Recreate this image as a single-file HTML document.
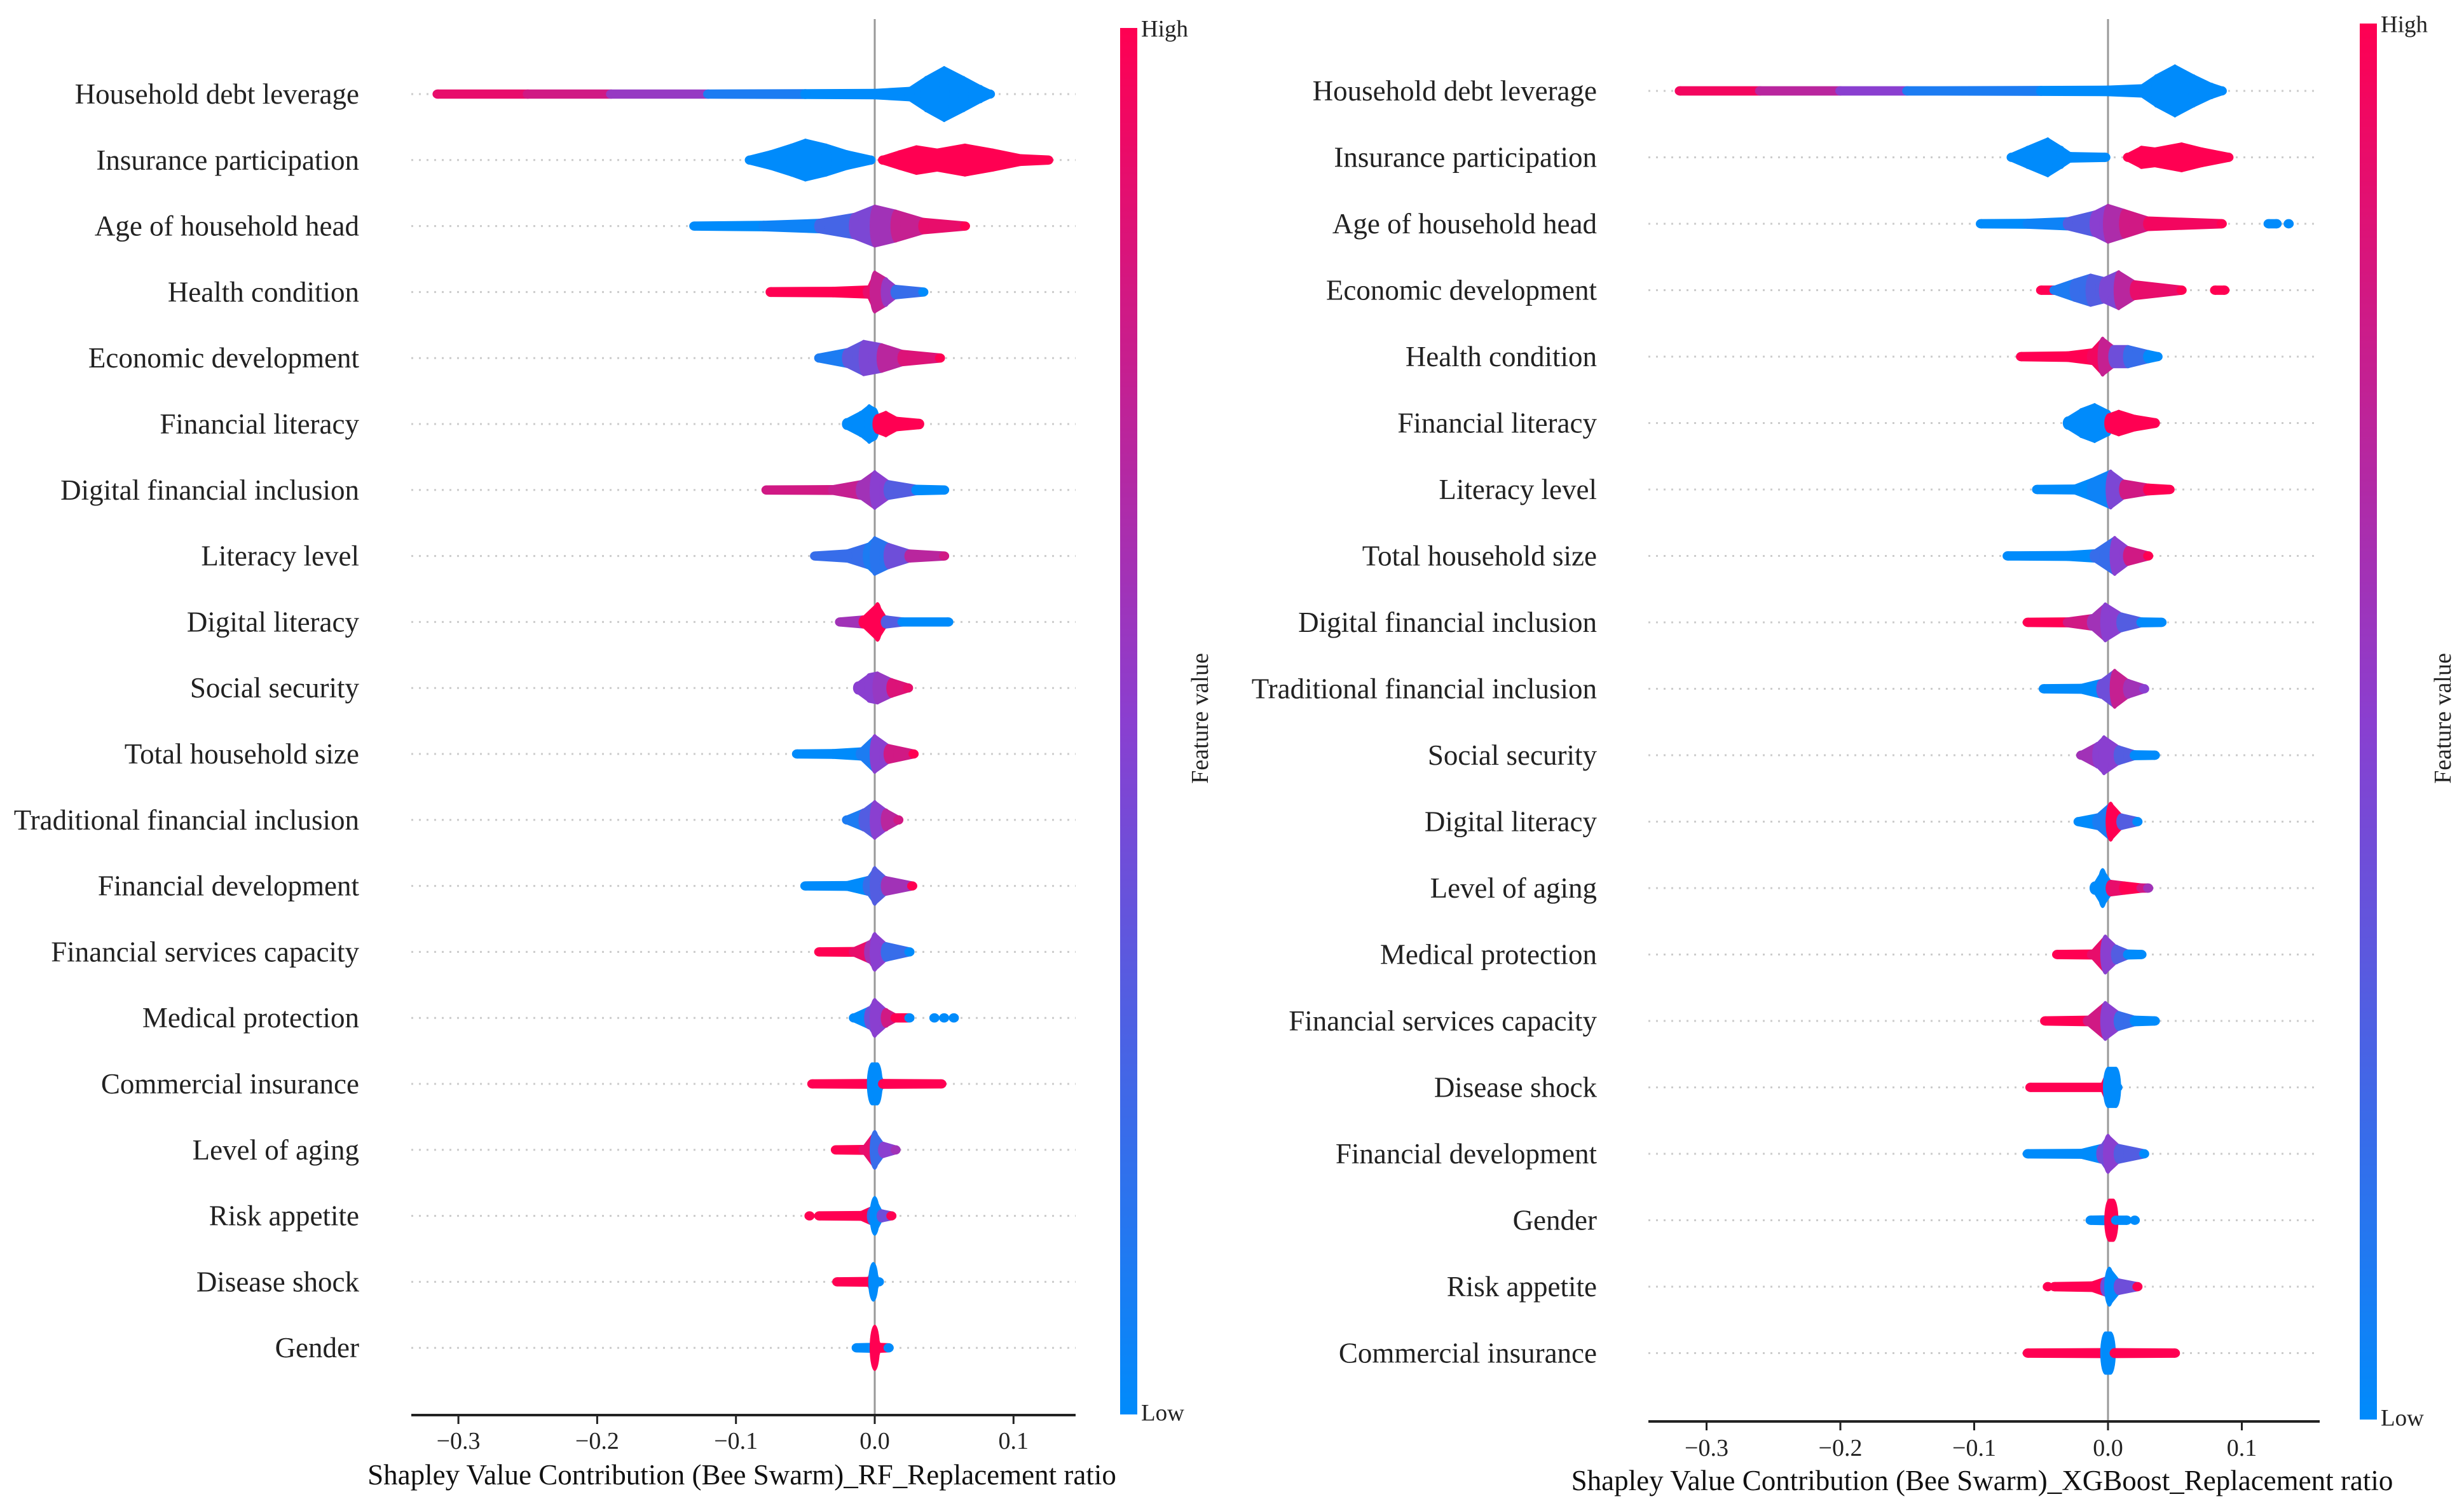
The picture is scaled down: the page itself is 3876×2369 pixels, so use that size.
<!DOCTYPE html>
<html><head><meta charset="utf-8">
<style>
html,body{margin:0;padding:0;background:#fff;}
svg{display:block;font-family:"Liberation Serif","Times New Roman",serif;}
</style></head>
<body>
<svg id="chart" width="3876" height="2369" viewBox="0 0 3876 2369" xmlns="http://www.w3.org/2000/svg">
<defs>
<linearGradient id="cbar" x1="0" y1="1" x2="0" y2="0">
<stop offset="0" stop-color="#008bfb"/><stop offset="0.5" stop-color="#8a3fd0"/><stop offset="1" stop-color="#ff0052"/>
</linearGradient>
</defs>
</svg>
<script>
// ---- data: knots [shapValue, relativeDensity, featureValue(0=low,1=high)] ----
const tickValues = [-0.3, -0.2, -0.1, 0.0, 0.1];
const tickLabels = ["\u22120.3", "\u22120.2", "\u22120.1", "0.0", "0.1"];

const rfFeatures = ["Household debt leverage","Insurance participation","Age of household head","Health condition","Economic development","Financial literacy ","Digital financial inclusion","Literacy level","Digital literacy","Social security","Total household size","Traditional financial inclusion","Financial development","Financial services capacity","Medical protection","Commercial insurance","Level of aging","Risk appetite","Disease shock","Gender"];
const rfSwarms = [
 [[[-0.315,0.14,0.9],[-0.25,0.14,0.8],[-0.19,0.14,0.55],[-0.12,0.14,0.1],[-0.05,0.15,0],[0.0,0.16,0],[0.025,0.22,0],[0.037,0.55,0],[0.05,0.85,0],[0.064,0.55,0],[0.076,0.28,0],[0.083,0.14,0]]],
 [[[-0.09,0.14,0],[-0.075,0.3,0],[-0.06,0.5,0],[-0.05,0.65,0],[-0.035,0.5,0],[-0.02,0.3,0],[-0.003,0.14,0]],
  [[0.006,0.14,1],[0.018,0.3,1],[0.03,0.45,1],[0.045,0.35,1],[0.065,0.5,1],[0.085,0.35,1],[0.105,0.18,1],[0.125,0.14,1]]],
 [[[-0.13,0.14,0],[-0.08,0.16,0.05],[-0.04,0.22,0.25],[-0.015,0.4,0.45],[0.0,0.65,0.6],[0.015,0.5,0.75],[0.035,0.25,0.9],[0.065,0.14,1]]],
 [[[-0.075,0.15,1],[-0.03,0.16,1],[-0.005,0.2,0.9],[0.0,0.65,0.75],[0.008,0.45,0.55],[0.015,0.22,0.2],[0.035,0.14,0]]],
 [[[-0.04,0.14,0.1],[-0.02,0.3,0.35],[-0.008,0.55,0.45],[0.005,0.45,0.7],[0.02,0.25,0.85],[0.047,0.14,1]]],
 [[[-0.02,0.18,0],[-0.01,0.4,0],[-0.004,0.6,0],[0.0,0.5,0]],
  [[0.002,0.3,1],[0.008,0.4,1],[0.016,0.22,1],[0.032,0.16,1]]],
 [[[-0.078,0.14,0.8],[-0.03,0.15,0.75],[-0.01,0.3,0.6],[0.0,0.6,0.5],[0.01,0.3,0.3],[0.03,0.16,0],[0.05,0.14,0]]],
 [[[-0.043,0.14,0.2],[-0.02,0.2,0.2],[-0.005,0.4,0.1],[0.0,0.6,0.15],[0.01,0.4,0.4],[0.025,0.2,0.7],[0.05,0.14,0.8]]],
 [[[-0.025,0.14,0.6],[-0.008,0.2,1],[0.002,0.6,1],[0.008,0.2,0.3],[0.02,0.14,0],[0.053,0.14,0]]],
 [[[-0.012,0.2,0.5],[-0.004,0.45,0.5],[0.002,0.5,0.55],[0.012,0.3,0.85],[0.024,0.14,0.9]]],
 [[[-0.056,0.14,0],[-0.03,0.15,0],[-0.01,0.2,0.1],[0.0,0.6,0.5],[0.01,0.3,0.8],[0.028,0.14,1]]],
 [[[-0.02,0.14,0.1],[-0.008,0.35,0.3],[0.0,0.6,0.5],[0.008,0.35,0.7],[0.017,0.14,0.8]]],
 [[[-0.05,0.14,0],[-0.02,0.15,0],[-0.005,0.3,0.2],[0.0,0.6,0.3],[0.008,0.3,0.6],[0.027,0.14,1]]],
 [[[-0.04,0.14,1],[-0.015,0.15,0.9],[-0.004,0.35,0.6],[0.0,0.6,0.5],[0.008,0.3,0.2],[0.025,0.14,0]]],
 [[[-0.015,0.14,0],[-0.004,0.35,0.4],[0.0,0.6,0.5],[0.008,0.3,0.8],[0.015,0.14,1],[0.025,0.14,0]],
  [[0.043,0.14,0]],[[0.05,0.14,0]],[[0.057,0.14,0]]],
 [[[-0.045,0.14,1],[-0.005,0.15,1],[-0.002,0.65,0],[0.002,0.65,0],[0.006,0.15,1],[0.048,0.14,1]]],
 [[[-0.028,0.14,1],[-0.008,0.15,0.9],[0.0,0.6,0.2],[0.006,0.25,0.5],[0.015,0.14,0.6]]],
 [[[-0.047,0.14,1]],[[-0.04,0.14,1],[-0.01,0.15,1],[-0.002,0.3,0.2],[0.0,0.6,0],[0.005,0.2,0.4],[0.012,0.14,1]]],
 [[[-0.027,0.14,1],[-0.005,0.15,1],[-0.001,0.6,0],[0.003,0.14,0]]],
 [[[-0.013,0.14,0],[-0.003,0.15,0],[0.0,0.7,1],[0.004,0.15,1],[0.01,0.14,0]]]
];

const xgbFeatures = ["Household debt leverage","Insurance participation","Age of household head","Economic development","Health condition","Financial literacy","Literacy level","Total household size","Digital financial inclusion","Traditional financial inclusion","Social security","Digital literacy","Level of aging","Medical protection","Financial services capacity","Disease shock","Financial development","Gender","Risk appetite","Commercial insurance"];
const xgbSwarms = [
 [[[-0.32,0.14,0.95],[-0.26,0.14,0.7],[-0.2,0.14,0.5],[-0.15,0.14,0.1],[-0.05,0.15,0],[0.0,0.16,0],[0.025,0.2,0],[0.036,0.5,0],[0.05,0.8,0],[0.064,0.5,0],[0.077,0.25,0],[0.085,0.14,0]]],
 [[[-0.072,0.14,0],[-0.06,0.35,0],[-0.045,0.6,0],[-0.035,0.35,0],[-0.028,0.16,0],[-0.002,0.14,0]],
  [[0.015,0.14,1],[0.025,0.35,1],[0.035,0.3,1],[0.055,0.45,1],[0.07,0.3,1],[0.09,0.14,1]]],
 [[[-0.095,0.14,0],[-0.06,0.15,0.05],[-0.03,0.2,0.3],[-0.01,0.4,0.5],[0.0,0.6,0.65],[0.012,0.45,0.8],[0.03,0.22,0.95],[0.085,0.14,1]],
  [[0.12,0.14,0],[0.126,0.14,0]],[[0.135,0.14,0]]],
 [[[-0.05,0.14,1],[-0.04,0.14,0.1],[-0.025,0.35,0.2],[-0.013,0.5,0.3],[-0.003,0.4,0.45],[0.008,0.6,0.7],[0.02,0.3,0.9],[0.055,0.14,1]],
  [[0.08,0.14,1],[0.087,0.14,1]]],
 [[[-0.065,0.14,1],[-0.03,0.16,1],[-0.012,0.25,0.95],[-0.004,0.6,0.75],[0.004,0.35,0.4],[0.015,0.35,0.2],[0.03,0.2,0],[0.037,0.14,0]]],
 [[[-0.03,0.2,0],[-0.02,0.45,0],[-0.01,0.6,0],[0.0,0.4,0]],
  [[0.001,0.3,1],[0.008,0.4,1],[0.02,0.25,1],[0.035,0.15,1]]],
 [[[-0.053,0.14,0],[-0.025,0.15,0],[-0.012,0.35,0.05],[0.002,0.6,0.45],[0.012,0.3,0.8],[0.03,0.18,1],[0.046,0.14,1]]],
 [[[-0.075,0.14,0],[-0.03,0.15,0],[-0.01,0.2,0.2],[0.005,0.6,0.5],[0.015,0.3,0.8],[0.03,0.14,1]]],
 [[[-0.06,0.14,1],[-0.03,0.15,0.8],[-0.012,0.25,0.6],[-0.002,0.6,0.5],[0.01,0.3,0.3],[0.025,0.15,0],[0.04,0.14,0]]],
 [[[-0.048,0.14,0],[-0.02,0.15,0],[-0.005,0.3,0.4],[0.005,0.6,0.75],[0.015,0.3,0.6],[0.027,0.14,0.5]]],
 [[[-0.02,0.14,0.6],[-0.008,0.4,0.5],[-0.003,0.6,0.5],[0.008,0.3,0.3],[0.02,0.15,0],[0.035,0.14,0]]],
 [[[-0.022,0.14,0],[-0.008,0.25,0.1],[0.002,0.6,1],[0.01,0.25,0.3],[0.022,0.14,0]]],
 [[[-0.01,0.2,0],[-0.004,0.6,0],[0.002,0.25,0.9],[0.012,0.2,1],[0.025,0.14,0.8],[0.03,0.14,0.6]]],
 [[[-0.038,0.14,1],[-0.012,0.15,0.9],[-0.002,0.6,0.5],[0.006,0.3,0.3],[0.015,0.15,0],[0.025,0.14,0]]],
 [[[-0.047,0.14,1],[-0.015,0.16,0.8],[-0.002,0.6,0.5],[0.008,0.3,0.2],[0.02,0.16,0],[0.035,0.14,0]]],
 [[[-0.058,0.14,1],[-0.005,0.14,1],[0.0,0.62,0],[0.006,0.62,0],[0.007,0.14,0]]],
 [[[-0.06,0.14,0],[-0.02,0.15,0],[-0.005,0.3,0.4],[0.0,0.6,0.5],[0.008,0.3,0.3],[0.027,0.14,0]]],
 [[[-0.013,0.14,0],[-0.001,0.15,0],[0.001,0.65,1],[0.004,0.65,1],[0.006,0.14,0],[0.014,0.14,0]],[[0.02,0.14,0]]],
 [[[-0.045,0.14,1]],[[-0.04,0.14,1],[-0.012,0.16,1],[-0.002,0.3,0.4],[0.001,0.6,0],[0.008,0.25,0.4],[0.022,0.14,1]]],
 [[[-0.06,0.14,1],[-0.005,0.15,1],[-0.002,0.65,0],[0.002,0.65,0],[0.005,0.15,1],[0.05,0.14,1]]]
];

// ---- rendering ----
const NS = "http://www.w3.org/2000/svg";
const svg = document.getElementById("chart");
function mk(tag, attrs, parent){ const e=document.createElementNS(NS,tag); for(const k in attrs) e.setAttribute(k,attrs[k]); (parent||svg).appendChild(e); return e; }
function lerp(a,b,t){return a+(b-a)*t;}
function colorOf(v){
  const s=[[0,[0,139,251]],[0.5,[138,63,208]],[1,[255,0,82]]];
  let i = v<=0.5?0:1; const t=(v-s[i][0])/0.5;
  const c=s[i][1].map((x,k)=>Math.round(lerp(x,s[i+1][1][k],t)));
  return `rgb(${c[0]},${c[1]},${c[2]})`;
}

function drawPanel(cfg){
  const {features, swarms, x0, scale, y0, step, axisL, axisR, axisY, cbX, cbTop, cbBot, labelX, tickY, titleX, titleY, title, fvX, fvY, id} = cfg;
  const xs = v => x0 + v*scale;
  const ys = i => y0 + i*step;
  const maxH = step*0.5;
  const g = mk("g",{});
  
  
  features.forEach((f,i)=>{
    const l = mk("line",{x1:axisL,x2:axisR,y1:ys(i),y2:ys(i),stroke:"#cccccc","stroke-width":3,"stroke-dasharray":"3 9"},g);
    
    
  });
  const z = mk("line",{x1:xs(0),x2:xs(0),y1:30,y2:axisY,stroke:"#999999","stroke-width":3},g);
  
  
  swarms.forEach((groups,i)=>{
    const rg = mk("g",{},g);
    
    
    const cy = ys(i);
    groups.forEach(knots=>{
      for(let k=0;k<knots.length-1;k++){
        const a=knots[k], b=knots[k+1];
        const ha=Math.max(7,a[1]*maxH), hb=Math.max(7,b[1]*maxH);
        const xa=xs(a[0]), xb=xs(b[0]);
        const p = mk("polygon",{points:`${xa},${cy-ha} ${xb},${cy-hb} ${xb},${cy+hb} ${xa},${cy+ha}`,fill:colorOf(a[2])},rg);
        
        
      }
      knots.forEach(kn=>{
        const h=Math.max(7,kn[1]*maxH);
        const e = mk("ellipse",{cx:xs(kn[0]),cy:cy,rx:8,ry:h,fill:colorOf(kn[2])},rg);
        
        
      });
    });
    const t = mk("text",{x:labelX,y:cy,"text-anchor":"end","dominant-baseline":"central","font-size":45,fill:"#222"},g);
    t.textContent = features[i];
    
    
  });
  const ax = mk("line",{x1:axisL,x2:axisR,y1:axisY,y2:axisY,stroke:"#222","stroke-width":4},g);
  
  
  tickValues.forEach((v,k)=>{
    const tk = mk("line",{x1:xs(v),x2:xs(v),y1:axisY,y2:axisY+14,stroke:"#222","stroke-width":3},g);
    
    
    const tl = mk("text",{x:xs(v),y:tickY,"text-anchor":"middle","dominant-baseline":"central","font-size":38,fill:"#222"},g);
    tl.textContent = tickLabels[k];
    
    
  });
  const tt = mk("text",{x:titleX,y:titleY,"text-anchor":"middle","dominant-baseline":"central","font-size":45,fill:"#111"},g);
  tt.textContent = title;
  
  
  const cb = mk("rect",{x:cbX,y:cbTop,width:27,height:cbBot-cbTop,fill:"url(#cbar)"},g);
  
  
  const hi = mk("text",{x:cbX+33,y:cbTop+2,"dominant-baseline":"central","font-size":37,fill:"#222"},g);
  hi.textContent = "High";
  
  
  const lo = mk("text",{x:cbX+33,y:cbBot-2,"dominant-baseline":"central","font-size":37,fill:"#222"},g);
  lo.textContent = "Low";
  
  
  const fv = mk("text",{x:fvX,y:fvY,"text-anchor":"middle","dominant-baseline":"central","font-size":38,fill:"#222",transform:`rotate(-90 ${fvX} ${fvY})`},g);
  fv.textContent = "Feature value";
  
  
}

drawPanel({id:"rf",features:rfFeatures,swarms:rfSwarms,x0:1376,scale:2183,y0:148,step:103.8,axisL:647,axisR:1692,axisY:2226,cbX:1762,cbTop:44,cbBot:2225,labelX:565,tickY:2267,titleX:1167,titleY:2320,title:"Shapley Value Contribution (Bee Swarm)_RF_Replacement ratio",fvX:1888,fvY:1130});
drawPanel({id:"xgb",features:xgbFeatures,swarms:xgbSwarms,x0:3316,scale:2105,y0:143,step:104.5,axisL:2593,axisR:3649,axisY:2236,cbX:3712,cbTop:37,cbBot:2233,labelX:2512,tickY:2278,titleX:3118,titleY:2329,title:"Shapley Value Contribution (Bee Swarm)_XGBoost_Replacement ratio",fvX:3843,fvY:1130});
</script>
</body></html>
